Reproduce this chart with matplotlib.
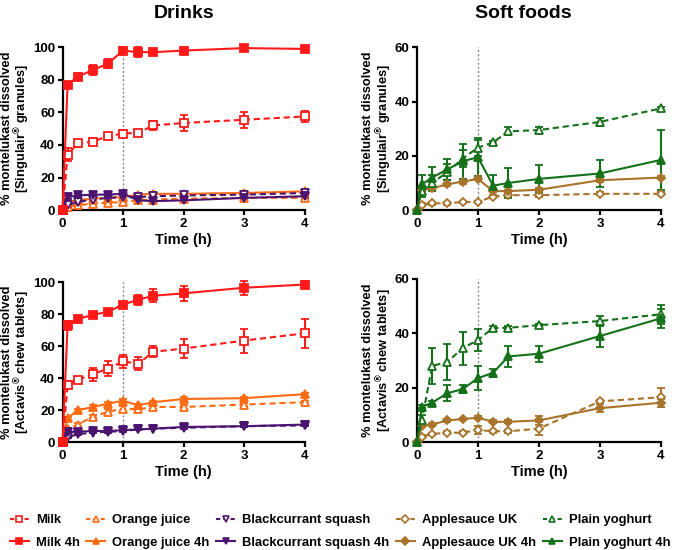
import numpy as np
import matplotlib.pyplot as plt
from matplotlib.lines import Line2D

plt.rcParams['font.family'] = ['Liberation Sans', 'DejaVu Sans']
plt.rcParams['font.weight'] = 'bold'
plt.rcParams['mathtext.default'] = 'regular'

t = [0, 0.083, 0.25, 0.5, 0.75, 1, 1.25, 1.5, 2, 3, 4]

# Singulair granules - drinks
milk_s = [0, 34, 41, 42, 45.5, 47, 47.5, 52, 53.5, 55.5, 57.5]
milk_s_err = [0, 4, 2, 2, 1.5, 2, 1.5, 3, 5, 5, 3.5]
milk4_s = [0, 77, 82, 86, 90, 98, 97, 97, 98, 99.5, 99]
milk4_s_err = [0, 1, 2, 3, 3, 2, 3, 2, 1, 1, 1.5]
oj_s = [0, 2, 3, 4, 4.5, 5, 6, 6.5, 7, 7.5, 7.5]
oj_s_err = [0, 1, 1, 1, 1, 1.5, 1, 1, 1, 1, 1]
oj4_s = [0, 5, 6, 7, 7.5, 8, 9.5, 10, 10, 10.5, 11.5]
oj4_s_err = [0, 1, 1, 1, 1, 1, 1, 1, 1, 1, 1]
bc_s = [0, 3, 5, 6.5, 7.5, 8, 8, 8.5, 9, 9.5, 10.5]
bc_s_err = [0, 1, 1, 1, 1, 1, 1, 1, 1, 1, 1]
bc4_s = [0, 8, 9, 9.5, 9.5, 10, 6, 5.5, 6, 7.5, 8.5]
bc4_s_err = [0, 1, 1, 1, 1, 1, 1, 1, 1, 1, 1]

# Singulair granules - soft foods
app_s = [0, 2, 2.5, 2.5, 3, 3, 5, 5.5, 5.5, 6, 6]
app_s_err = [0, 0.5, 0.5, 0.5, 0.5, 0.5, 0.5, 0.5, 0.5, 0.5, 0.5]
app4_s = [0, 7.5, 8, 9.5, 10.5, 11.5, 7, 7, 7.5, 11, 12]
app4_s_err = [0, 0.5, 0.5, 0.5, 1, 0.5, 0.5, 0.5, 0.5, 0.5, 0.5]
yog_s = [0, 7, 10, 14, 19, 23, 25, 29, 29.5, 32.5, 37.5]
yog_s_err = [0, 2, 3, 3, 3, 3, 0.5, 1.5, 1, 1.5, 0.5]
yog4_s = [0, 9.5, 12, 15, 18, 19.5, 9, 10, 11.5, 13.5, 18.5]
yog4_s_err = [0, 3.5, 4, 4, 6.5, 7, 4, 5.5, 5, 5, 11]

# Actavis chew tablets - drinks
milk_a = [0, 36, 39, 42.5, 46, 50.5, 49, 56.5, 58.5, 63.5, 68]
milk_a_err = [0, 2, 2, 4, 4.5, 4, 4, 3.5, 6, 7.5, 9]
milk4_a = [0, 73, 77, 79.5, 81.5, 86, 89, 91.5, 93, 96.5, 98.5]
milk4_a_err = [0, 3, 2, 1.5, 1, 1, 3, 4, 4.5, 4.5, 2]
oj_a = [0, 8, 11, 16, 19, 21, 20.5, 22, 22, 23.5, 25]
oj_a_err = [0, 1, 1, 1, 1.5, 1.5, 1.5, 1, 1, 1, 1]
oj4_a = [0, 15, 20, 22, 24, 26, 23, 25, 27, 27.5, 30]
oj4_a_err = [0, 1, 1, 1, 1, 1, 1, 1, 1, 1, 1]
bc_a = [0, 3, 5, 6, 6.5, 7, 8, 8.5, 9, 10, 10.5]
bc_a_err = [0, 0.5, 0.5, 0.5, 0.5, 0.5, 0.5, 0.5, 0.5, 0.5, 0.5]
bc4_a = [0, 6.5, 6.5, 7, 7, 7.5, 8, 8.5, 9.5, 10, 11]
bc4_a_err = [0, 0.5, 0.5, 0.5, 0.5, 0.5, 0.5, 0.5, 0.5, 0.5, 0.5]

# Actavis chew tablets - soft foods
app_a = [0, 2, 3, 3.5, 3.5, 4.5, 4, 4, 5, 15, 16.5]
app_a_err = [0, 0.5, 0.5, 0.5, 0.5, 1.5, 0.5, 0.5, 2.5, 0.5, 3.5]
app4_a = [0, 6, 6.5, 8, 8.5, 9, 7.5, 7.5, 8, 12.5, 14.5]
app4_a_err = [0, 0.5, 0.5, 0.5, 0.5, 0.5, 0.5, 0.5, 1.5, 1.5, 1.5]
yog_a = [0, 8, 28, 29.5, 34.5, 37.5, 42, 42, 43, 44.5, 47]
yog_a_err = [0, 2, 6.5, 6.5, 6, 4, 0.5, 0.5, 0.5, 2, 3.5]
yog4_a = [0, 13, 14.5, 18, 19.5, 23.5, 25.5, 31.5, 32.5, 39, 45.5]
yog4_a_err = [0, 0.5, 0.5, 3, 1.5, 4.5, 1.5, 4, 3, 4, 3.5]

RED = '#ff1a1a'
ORANGE = '#ff6a13'
PURPLE = '#4a1470'
BROWN = '#a8732a'
GREEN = '#15701a'

legend_names = ['Milk', 'Milk 4h', 'Orange juice', 'Orange juice 4h',
                'Blackcurrant squash', 'Blackcurrant squash 4h',
                'Applesauce UK', 'Applesauce UK 4h',
                'Plain yoghurt', 'Plain yoghurt 4h']
legend_colors = [RED, RED, ORANGE, ORANGE, PURPLE, PURPLE,
                 BROWN, BROWN, GREEN, GREEN]
legend_markers = ['s', 's', '^', '^', 'v', 'v', 'D', 'D', '^', '^']


def msize(marker):
    if marker == 's':
        return 6
    if marker == 'D':
        return 4.5
    return 5.5


def series(ax, y, err, color, marker, dashed):
    ls = (0, (3, 1.8)) if dashed else '-'
    mfc = 'white' if dashed else color
    ax.errorbar(t, y, yerr=err, color=color, ls=ls, lw=1.5, marker=marker,
                ms=msize(marker), mfc=mfc, mec=color, mew=1.3, capsize=3,
                elinewidth=1.5, capthick=1.5, clip_on=False, zorder=3)


def style(ax, ymax, ystep, ylabel):
    ax.set_xlim(0, 4)
    ax.set_ylim(0, ymax)
    ax.set_xticks([0, 1, 2, 3, 4])
    ax.set_yticks(np.arange(0, ymax + 1, ystep))
    ax.axvline(1, color='#888888', ls=(0, (1.5, 1.5)), lw=1, zorder=1)
    for s in ['top', 'right']:
        ax.spines[s].set_visible(False)
    for s in ['left', 'bottom']:
        ax.spines[s].set_linewidth(1.6)
    ax.tick_params(width=1.6, length=3.5, labelsize=9.5, pad=2)
    for lab in ax.get_xticklabels() + ax.get_yticklabels():
        lab.set_fontweight('bold')
    ax.set_xlabel('Time (h)', fontsize=10.5, fontweight='bold', labelpad=2)
    ax.set_ylabel(ylabel, fontsize=9.3, fontweight='bold', labelpad=1,
                  linespacing=1.0)


fig = plt.figure(figsize=(6.8, 5.5), dpi=100)
ax1 = fig.add_axes([0.092, 0.618, 0.356, 0.296])
ax2 = fig.add_axes([0.613, 0.618, 0.359, 0.296])
ax3 = fig.add_axes([0.092, 0.196, 0.356, 0.291])
ax4 = fig.add_axes([0.613, 0.196, 0.359, 0.297])

lab_s = '% montelukast dissolved\n[Singulair$^{®}$ granules]'
lab_a = '% montelukast dissolved\n[Actavis$^{®}$ chew tablets]'

series(ax1, oj_s, oj_s_err, ORANGE, '^', True)
series(ax1, oj4_s, oj4_s_err, ORANGE, '^', False)
series(ax1, bc_s, bc_s_err, PURPLE, 'v', True)
series(ax1, bc4_s, bc4_s_err, PURPLE, 'v', False)
series(ax1, milk_s, milk_s_err, RED, 's', True)
series(ax1, milk4_s, milk4_s_err, RED, 's', False)
style(ax1, 100, 20, lab_s)

series(ax2, app_s, app_s_err, BROWN, 'D', True)
series(ax2, app4_s, app4_s_err, BROWN, 'D', False)
series(ax2, yog_s, yog_s_err, GREEN, '^', True)
series(ax2, yog4_s, yog4_s_err, GREEN, '^', False)
style(ax2, 60, 20, lab_s)

series(ax3, oj_a, oj_a_err, ORANGE, '^', True)
series(ax3, oj4_a, oj4_a_err, ORANGE, '^', False)
series(ax3, bc_a, bc_a_err, PURPLE, 'v', True)
series(ax3, bc4_a, bc4_a_err, PURPLE, 'v', False)
series(ax3, milk_a, milk_a_err, RED, 's', True)
series(ax3, milk4_a, milk4_a_err, RED, 's', False)
style(ax3, 100, 20, lab_a)

series(ax4, app_a, app_a_err, BROWN, 'D', True)
series(ax4, app4_a, app4_a_err, BROWN, 'D', False)
series(ax4, yog_a, yog_a_err, GREEN, '^', True)
series(ax4, yog4_a, yog4_a_err, GREEN, '^', False)
style(ax4, 60, 20, lab_a)

fig.text(0.27, 0.975, 'Drinks', ha='center', va='center', fontsize=14, fontweight='bold')
fig.text(0.77, 0.975, 'Soft foods', ha='center', va='center', fontsize=14, fontweight='bold')

# legend: columns are (dashed, solid) pairs
handles = []
for i, (c, m) in enumerate(zip(legend_colors, legend_markers)):
    dashed = i % 2 == 0
    handles.append(Line2D([], [], color=c, lw=1.5, marker=m,
                          ls=(0, (2, 1.5)) if dashed else '-',
                          ms=msize(m) * 0.8, mfc='white' if dashed else c,
                          mec=c, mew=1.2))
fig.legend(handles, legend_names, loc='lower center',
           bbox_to_anchor=(0.5, -0.005), ncol=5, frameon=False,
           fontsize=9.4, handlelength=1.45, handletextpad=0.55,
           columnspacing=0.5, labelspacing=0.8, borderaxespad=0.1,
           borderpad=0.2)

fig.savefig('out.png', dpi=100)
